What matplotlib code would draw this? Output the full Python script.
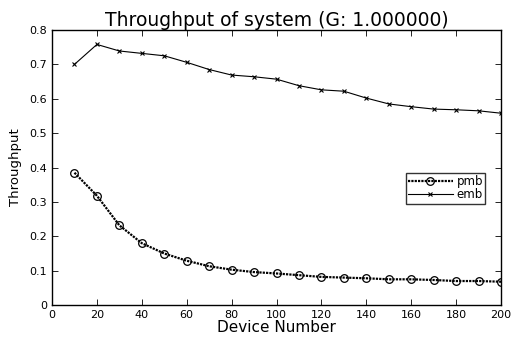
import numpy as np
import matplotlib.pyplot as plt

devices = [10, 20, 30, 40, 50, 60, 70, 80, 90, 100, 110, 120, 130, 140, 150, 160, 170, 180, 190, 200]
pmb = [0.385, 0.318, 0.232, 0.180, 0.150, 0.129, 0.113, 0.103, 0.096, 0.092,
       0.087, 0.082, 0.080, 0.078, 0.075, 0.075, 0.073, 0.070, 0.070, 0.068]
emb = [0.700, 0.758, 0.739, 0.732, 0.725, 0.706, 0.685, 0.669, 0.664, 0.657,
       0.638, 0.626, 0.622, 0.602, 0.585, 0.577, 0.570, 0.568, 0.565, 0.558]

plt.rcParams['font.family'] = ['DejaVu Sans']

fig = plt.figure(figsize=(5.12, 3.39), dpi=100)
ax = fig.add_axes([0.1016, 0.100, 0.877, 0.8115])

ax.plot(devices, pmb, color='black', linestyle=(0, (1, 0.5)), linewidth=1.6,
        marker='o', markersize=5.5, markerfacecolor='none', markeredgewidth=0.9, label='pmb')
ax.plot(devices, emb, color='black', linewidth=0.8,
        marker='x', markersize=3.5, markeredgewidth=0.8, label='emb')

ax.set_xlim(0, 200)
ax.set_ylim(0, 0.8)
ax.set_xticks(np.arange(0, 201, 20))
ax.set_yticks(np.arange(0, 0.81, 0.1))
ax.set_yticklabels(['0', '0.1', '0.2', '0.3', '0.4', '0.5', '0.6', '0.7', '0.8'])
ax.tick_params(direction='in', top=True, right=True, labelsize=8, length=4, width=0.6)
for s in ax.spines.values():
    s.set_linewidth(1.0)

ax.set_title('Throughput of system (G: 1.000000)', fontsize=13.5, pad=3)
ax.set_xlabel('Device Number', fontsize=11, labelpad=0)
ax.set_ylabel('Throughput', fontsize=9.5, labelpad=5)

leg = ax.legend(loc='center right', bbox_to_anchor=(0.965, 0.425), fontsize=8.5,
                frameon=True, fancybox=False, edgecolor='black', handlelength=3.8,
                borderpad=0.2, labelspacing=0.05, handletextpad=0.3, borderaxespad=0)
leg.get_frame().set_linewidth(1.0)

fig.savefig('out.png', dpi=100)
